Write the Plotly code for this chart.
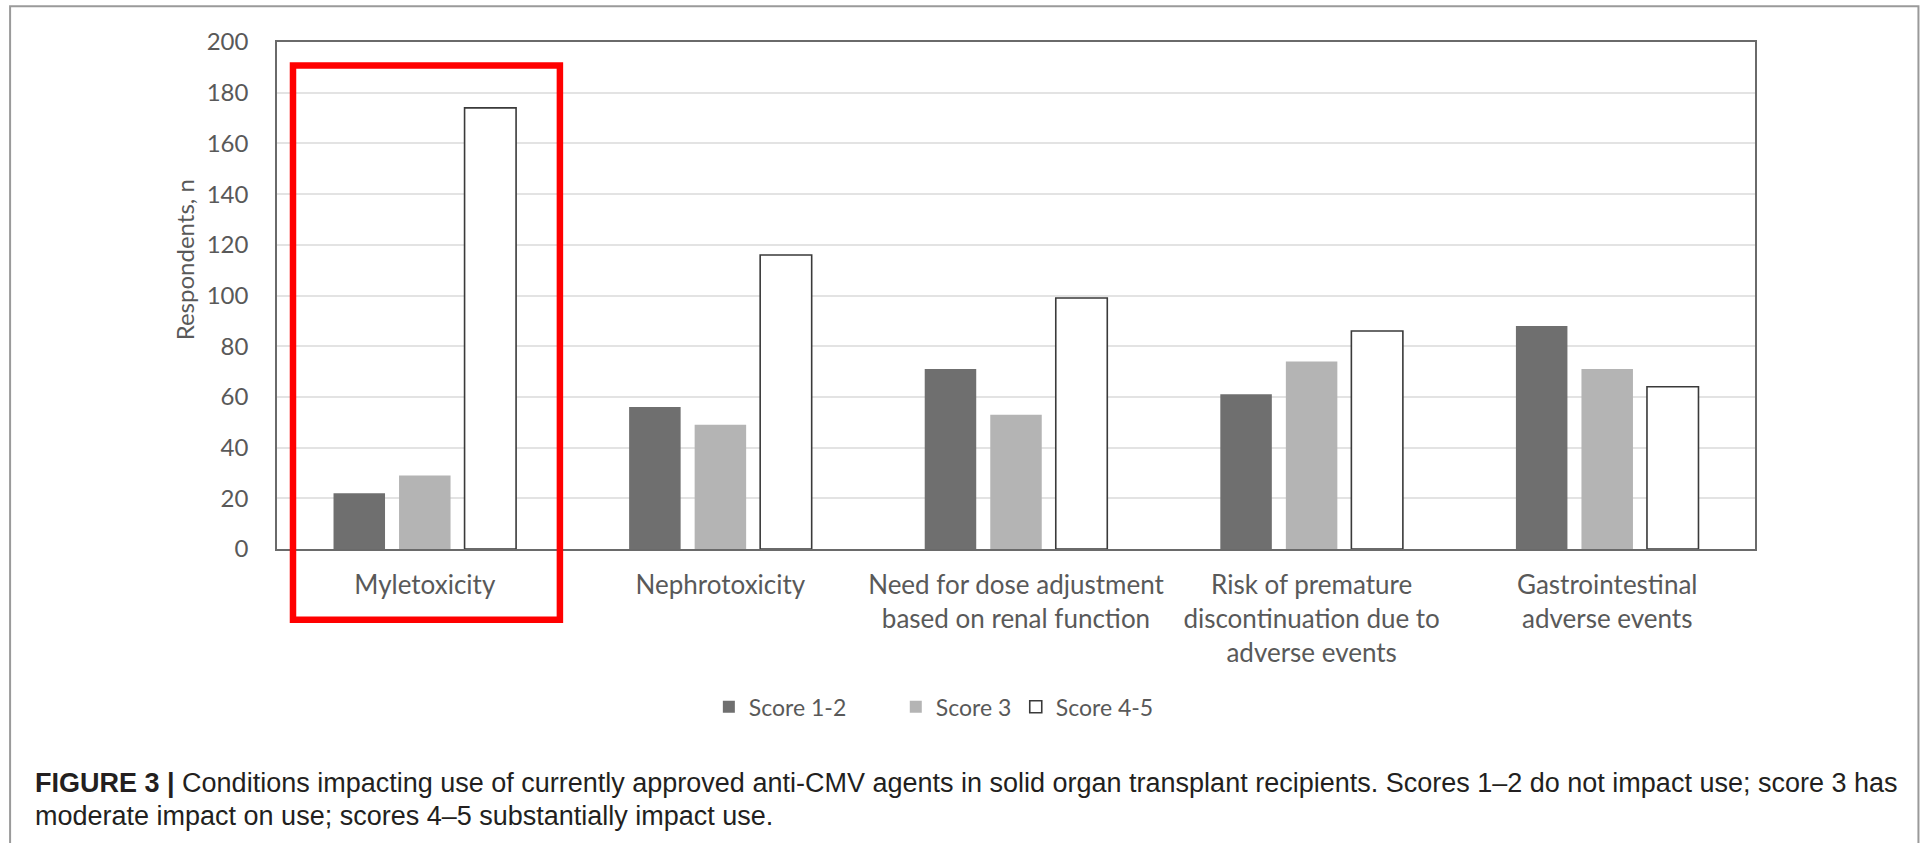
import plotly.graph_objects as go

# ---- data ----
categories = [
    "Myletoxicity",
    "Nephrotoxicity",
    "Need for dose adjustment<br>based on renal function",
    "Risk of premature<br>discontinuation due to<br>adverse events",
    "Gastrointestinal<br>adverse events",
]
score_1_2 = [22, 56, 71, 61, 88]
score_3 = [29, 49, 53, 74, 71]
score_4_5 = [174, 116, 99, 86, 64]
series_names = ["Score 1-2", "Score 3", "Score 4-5"]
y_tick_values = [0, 20, 40, 60, 80, 100, 120, 140, 160, 180, 200]
y_title = "Respondents, n"
caption_line1 = ("<b>FIGURE 3 |</b> Conditions impacting use of currently approved anti-CMV agents "
                 "in solid organ transplant recipients. Scores 1–2 do not impact use; score 3 has")
caption_line2 = "moderate impact on use; scores 4–5 substantially impact use."

# ---- page geometry (pixels) ----
W, H = 1931, 843
PL, PR, PT, PB = 277, 1755.5, 41.5, 549   # plot area edges


def fx(px):
    return (px - PL) / (PR - PL)


def fy(py):
    return (PB - py) / (PB - PT)


CHART_FONT = "Lato, 'Open Sans', sans-serif"
TEXT_GREY = "#595959"

fig = go.Figure()
fig.add_trace(go.Bar(x=categories, y=score_1_2, name=series_names[0],
                     marker=dict(color="#6f6f6f", line=dict(width=0)), legend="legend"))
fig.add_trace(go.Bar(x=categories, y=score_3, name=series_names[1],
                     marker=dict(color="#b4b4b4", line=dict(width=0)), legend="legend2"))
fig.add_trace(go.Bar(x=categories, y=score_4_5, name=series_names[2],
                     marker=dict(color="#ffffff", line=dict(color="#3a3a3a", width=1.6)),
                     legend="legend3"))

legend_common = dict(orientation="h", yanchor="middle", xanchor="left",
                     font=dict(family=CHART_FONT, size=23, color=TEXT_GREY),
                     bgcolor="rgba(0,0,0,0)", itemwidth=30)

fig.update_layout(
    width=W, height=H,
    margin=dict(l=PL, r=W - PR, t=PT, b=H - PB, pad=0),
    paper_bgcolor="white", plot_bgcolor="white",
    barmode="group", bargap=0.335, bargroupgap=0.214,
    font=dict(family=CHART_FONT, size=24, color=TEXT_GREY),
    xaxis=dict(range=[-0.5, 4.5], showline=True, linecolor="#6a6a6a", linewidth=1.6,
               mirror=True, ticks="", showgrid=False, ticklabelstandoff=12,
               tickfont=dict(family=CHART_FONT, size=26, color=TEXT_GREY)),
    yaxis=dict(range=[0, 200], tickvals=y_tick_values, showline=True, linecolor="#6a6a6a",
               linewidth=1.6, mirror=True, ticks="", showgrid=True, gridcolor="#e3e3e3",
               gridwidth=1.6, zeroline=False, ticklabelstandoff=22,
               tickfont=dict(family=CHART_FONT, size=24, color=TEXT_GREY)),
    legend=dict(legend_common, x=fx(709), y=fy(707)),
    legend2=dict(legend_common, x=fx(896), y=fy(707)),
    legend3=dict(legend_common, x=fx(1016), y=fy(707)),
    showlegend=True,
)

# outer frame of the figure panel
fig.add_shape(type="rect", xref="paper", yref="paper",
              x0=fx(10), x1=fx(1919), y0=fy(900), y1=fy(5.7),
              line=dict(color="#9a9a9a", width=2), fillcolor="rgba(0,0,0,0)", layer="below")

# red highlight box around the first category
fig.add_shape(type="rect", xref="paper", yref="paper",
              x0=fx(293), x1=fx(560), y0=fy(619.7), y1=fy(65),
              line=dict(color="#ff0000", width=6.5), fillcolor="rgba(0,0,0,0)", layer="above")

# y-axis title
fig.add_annotation(text=y_title, xref="paper", yref="paper", x=fx(184), y=fy(260),
                   xanchor="center", yanchor="middle", textangle=-90, showarrow=False,
                   font=dict(family=CHART_FONT, size=24, color=TEXT_GREY))

# caption
CAP_FONT = dict(family="'Liberation Sans', Arial, sans-serif", size=27, color="#231f20")
fig.add_annotation(text=caption_line1, xref="paper", yref="paper", x=fx(33), y=fy(783),
                   xanchor="left", yanchor="middle", showarrow=False, font=CAP_FONT)
fig.add_annotation(text=caption_line2, xref="paper", yref="paper", x=fx(33), y=fy(816),
                   xanchor="left", yanchor="middle", showarrow=False, font=CAP_FONT)

fig.write_html("out.html")
